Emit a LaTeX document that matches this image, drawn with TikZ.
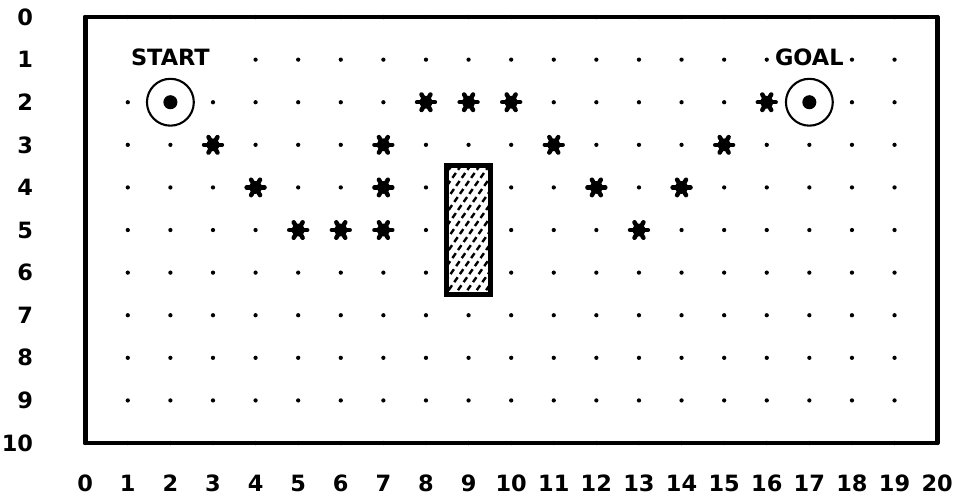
\documentclass[tikz,border=0pt]{standalone}
\usepackage{fontspec}
\setmainfont{DejaVu Sans}
\usetikzlibrary{positioning}

\begin{document}
\begin{tikzpicture}[x=1cm, y=-1cm, font=\bfseries\fontsize{15}{17}\selectfont,
    griddot/.style={circle, fill, inner sep=0pt, minimum size=0.1cm},
    border/.style={line width=3.2pt, line join=round},
    endpoint/.style={draw, circle, line width=1.4pt, fill=white, minimum size=1.1cm, inner sep=0pt},
    hub/.style={circle, fill, inner sep=0pt, minimum size=0.33cm},
    tag/.style={fill=white, inner sep=1pt},
    starhub/.style={circle, fill, inner sep=0pt, minimum size=0.3cm},
    starleg/.style={line width=3pt, line cap=round},
    wall/.style={draw, line width=2pt, fill=white, minimum width=1cm, minimum height=3cm, inner sep=0pt},
    hatch/.style={line width=1.6pt, dash pattern=on 0.14cm off 0.09cm}]

    \useasboundingbox (-2.0,-0.4) rectangle (20.56,11.31);

    % grid of points
    \foreach \c in {0,...,20}
        \foreach \r in {0,...,10}
            \node[griddot] (g-\c-\r) at (\c,\r) {};

    \draw[border] (0,0) rectangle (20,10);

    % axis numbers
    \foreach \r in {0,...,10}
        \node[anchor=east] (ry\r) at (-1.1,\r) {\r};
    \foreach \c in {0,...,20}
        \node (cx\c) at (\c,10.95) {\c};

    % start and goal
    \node[tag, minimum width=2.25cm] (start) at (2,0.95) {START};
    \node[tag, minimum width=1.4cm] (goal) at (17,0.95) {GOAL};
    \node[endpoint] (s) at (2,2) {};
    \node[hub] at (s) {};
    \node[endpoint] (t) at (17,2) {};
    \node[hub] at (t) {};

    % obstacle
    \node[wall] (block) at (9,5) {};
    \begin{scope}
        \clip (block.south west) rectangle (block.north east);
        \foreach \x in {6.2,6.42,...,9.7}
            \draw[hatch] (\x,6.6) -- ++(2.3,-3.28);
    \end{scope}
    \draw[line width=2pt] (block.south west) rectangle (block.north east);

    % path found
    \foreach \c/\r [count=\i] in {3/3,4/4,5/5,6/5,7/5,7/4,7/3,8/2,9/2,10/2,11/3,12/4,13/5,14/4,15/3,16/2} {
        \node[starhub] (p\i) at (\c,\r) {};
        \foreach \a in {0,60,120}
            \draw[starleg] ([shift={(\a:0.21)}]p\i.center) -- ([shift={(\a+180:0.21)}]p\i.center);
    }

\end{tikzpicture}
\end{document}
